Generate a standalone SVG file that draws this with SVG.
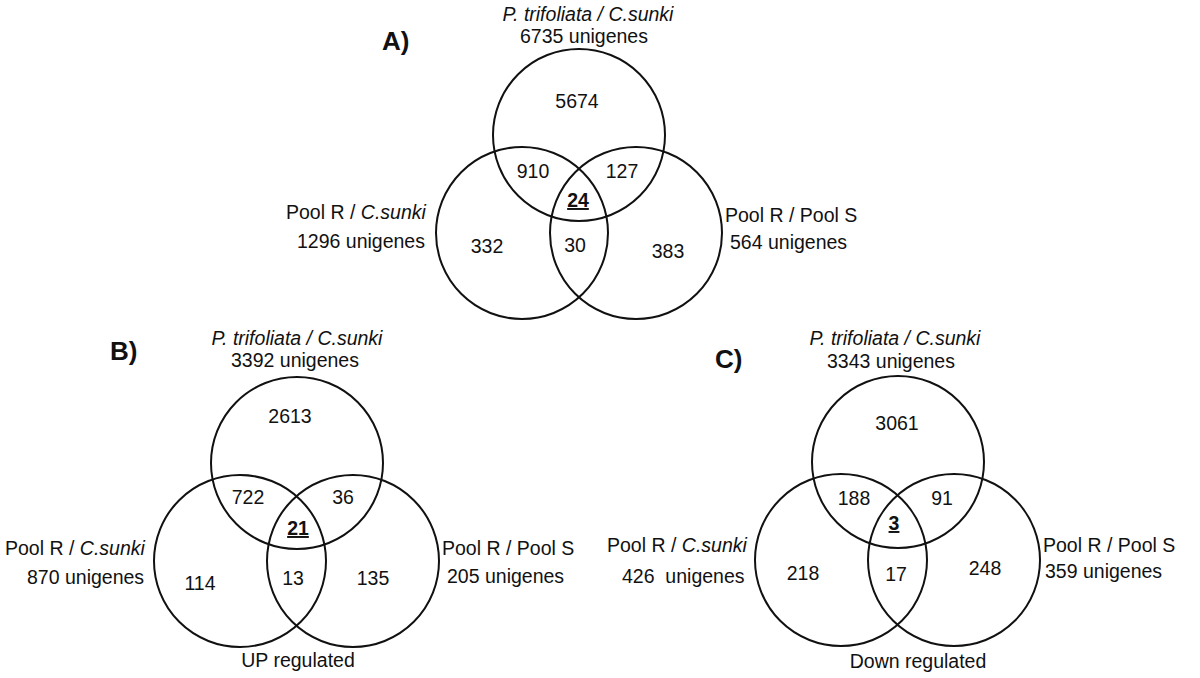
<svg xmlns="http://www.w3.org/2000/svg" width="1200" height="678" viewBox="0 0 1200 678">
<style>
  .c { fill: none; stroke: #111; stroke-width: 2; }
  text { font-family: "Liberation Sans", Arial, sans-serif; font-size: 19.5px; fill: #111; }
  .m { text-anchor: middle; }
  .i { font-style: italic; }
  .u { font-weight: bold; text-decoration: underline; }
  .t { font-weight: bold; font-size: 26px; }
</style>
<rect width="1200" height="678" fill="#fff"/>

<g id="venn-A">
  <g id="A-circles">
    <circle class="c" cx="579" cy="135" r="86"/>
    <circle class="c" cx="522" cy="233" r="86"/>
    <circle class="c" cx="636" cy="233" r="86"/>
  </g>
  <text class="t" x="382" y="50">A)</text>
  <text class="m i" x="588" y="21">P. trifoliata / C.sunki</text>
  <text class="m" x="584" y="43">6735 unigenes</text>
  <text x="286" y="219">Pool R / <tspan class="i">C.sunki</tspan></text>
  <text x="297" y="248">1296 unigenes</text>
  <text x="725" y="222">Pool R / Pool S</text>
  <text x="730" y="249">564 unigenes</text>
  <text class="m" x="577" y="108">5674</text>
  <text class="m" x="533" y="178">910</text>
  <text class="m" x="622" y="178">127</text>
  <text class="m u" x="578" y="207">24</text>
  <text class="m" x="487" y="253">332</text>
  <text class="m" x="575" y="252">30</text>
  <text class="m" x="668" y="258">383</text>
</g>

<g id="venn-B">
  <g id="B-circles">
    <circle class="c" cx="297" cy="463" r="86"/>
    <circle class="c" cx="240" cy="561" r="86"/>
    <circle class="c" cx="353" cy="561" r="86"/>
  </g>
  <text class="t" x="110" y="360">B)</text>
  <text class="m i" x="297" y="345">P. trifoliata / C.sunki</text>
  <text class="m" x="295" y="367">3392 unigenes</text>
  <text x="5" y="555">Pool R / <tspan class="i">C.sunki</tspan></text>
  <text x="27" y="584">870 unigenes</text>
  <text x="442" y="555">Pool R / Pool S</text>
  <text x="447" y="583">205 unigenes</text>
  <text class="m" x="290" y="423">2613</text>
  <text class="m" x="248" y="504">722</text>
  <text class="m" x="343" y="504">36</text>
  <text class="m u" x="298" y="535">21</text>
  <text class="m" x="200" y="590">114</text>
  <text class="m" x="293" y="585">13</text>
  <text class="m" x="373" y="585">135</text>
  <text class="m" x="298" y="667">UP regulated</text>
</g>

<g id="venn-C">
  <g id="C-circles">
    <circle class="c" cx="898" cy="462" r="86"/>
    <circle class="c" cx="841" cy="560" r="86"/>
    <circle class="c" cx="954" cy="560" r="86"/>
  </g>
  <text class="t" x="715" y="368">C)</text>
  <text class="m i" x="895" y="345">P. trifoliata / C.sunki</text>
  <text class="m" x="891" y="368">3343 unigenes</text>
  <text x="607" y="552">Pool R / <tspan class="i">C.sunki</tspan></text>
  <text x="622" y="583" xml:space="preserve">426  unigenes</text>
  <text x="1043" y="552">Pool R / Pool S</text>
  <text x="1045" y="578">359 unigenes</text>
  <text class="m" x="897" y="430">3061</text>
  <text class="m" x="854" y="505">188</text>
  <text class="m" x="942" y="505">91</text>
  <text class="m u" x="894" y="530">3</text>
  <text class="m" x="803" y="580">218</text>
  <text class="m" x="896" y="581">17</text>
  <text class="m" x="985" y="575">248</text>
  <text class="m" x="918" y="668">Down regulated</text>
</g>
</svg>
